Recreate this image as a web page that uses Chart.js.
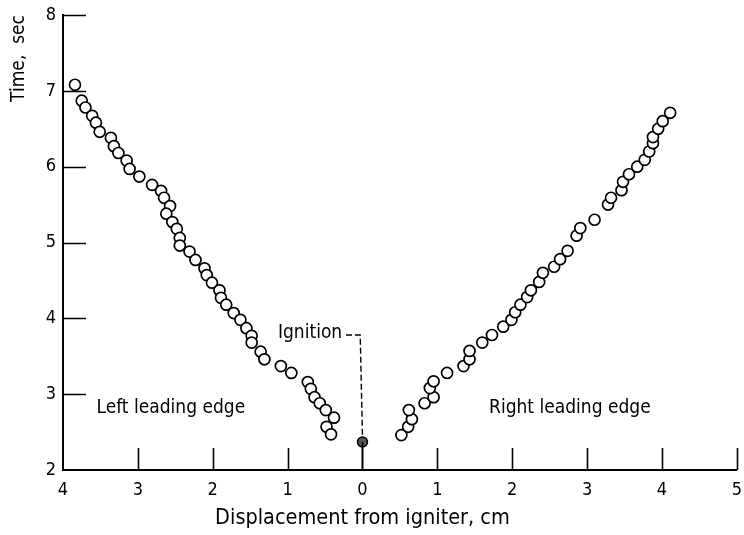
<!DOCTYPE html>
<html>
<head>
<meta charset="utf-8">
<script src="https://cdn.jsdelivr.net/npm/chart.js@4.4.1/dist/chart.umd.min.js"></script>
<style>
  html, body { margin: 0; padding: 0; background: #fff; }
  #wrap { width: 744px; height: 535px; }
</style>
</head>
<body>
<div id="wrap"><canvas id="chart" width="744" height="535"></canvas></div>
<script>
// ─── Data ─────────────────────────────────────────────────────────────────────
// negative x = left of igniter, the axis labels show absolute distance
const leftX = [-3.84, -3.75, -3.70, -3.61, -3.56, -3.51, -3.36, -3.32, -3.26, -3.15,
  -3.11, -2.98, -2.81, -2.69, -2.65, -2.57, -2.62, -2.54, -2.48, -2.44,
  -2.44, -2.31, -2.23, -2.11, -2.08, -2.01, -1.91, -1.89, -1.82, -1.72,
  -1.63, -1.55, -1.48, -1.48, -1.36, -1.31, -1.09, -0.95, -0.73, -0.69,
  -0.64, -0.57, -0.49, -0.38, -0.48, -0.42];
const leftY = [7.08, 6.87, 6.78, 6.67, 6.58, 6.46, 6.38, 6.27, 6.18, 6.08,
  5.97, 5.87, 5.76, 5.68, 5.59, 5.48, 5.38, 5.27, 5.18, 5.06,
  4.96, 4.88, 4.77, 4.66, 4.57, 4.47, 4.37, 4.27, 4.18, 4.07,
  3.98, 3.87, 3.77, 3.68, 3.56, 3.46, 3.37, 3.28, 3.16, 3.07,
  2.96, 2.88, 2.79, 2.69, 2.57, 2.47];

const rightX = [0.52, 0.61, 0.66, 0.62, 0.83, 0.95, 0.90, 0.95, 1.13, 1.35,
  1.43, 1.43, 1.60, 1.73, 1.88, 1.99, 2.04, 2.11, 2.20, 2.25,
  2.36, 2.41, 2.56, 2.64, 2.74, 2.86, 2.91, 3.10, 3.28, 3.32,
  3.46, 3.48, 3.56, 3.67, 3.77, 3.83, 3.88, 3.88, 3.95, 4.01, 4.11];
const rightY = [2.46, 2.57, 2.67, 2.79, 2.88, 2.96, 3.08, 3.17, 3.28, 3.37,
  3.46, 3.57, 3.68, 3.78, 3.89, 3.98, 4.08, 4.18, 4.28, 4.37,
  4.48, 4.60, 4.68, 4.78, 4.89, 5.09, 5.19, 5.30, 5.50, 5.59,
  5.69, 5.80, 5.90, 6.00, 6.09, 6.20, 6.31, 6.39, 6.50, 6.60, 6.71];

const ignitionX = [0];
const ignitionY = [2.37];
const stemX = [0, 0];
const stemY = [2, 2.37];
const leaderX = [-0.22, -0.03, 0];
const leaderY = [3.78, 3.78, 2.45];

const noteText = ['Ignition', 'Left leading edge', 'Right leading edge'];
const noteX = [-0.7, -2.56, 2.77];
const noteY = [3.81, 2.82, 2.82];

const xRange = [-4, 5];
const yRange = [2, 8];
const xTitle = 'Displacement from igniter, cm';
const yTitle = 'Time,  sec';

// ─── Helpers ──────────────────────────────────────────────────────────────────
const FONT = '"DejaVu Sans Condensed", "Liberation Sans Narrow", "Roboto Condensed", sans-serif';
const pts = (xs, ys) => xs.map((v, i) => ({ x: v, y: ys[i] }));
const noPadding = () => ({ left: 0, top: 0, right: 0, bottom: 0 });

const inwardTicks = {
  id: 'inwardTicks',
  afterDatasetsDraw(chart) {
    const { ctx, chartArea, scales: { x, y } } = chart;
    ctx.save();
    ctx.strokeStyle = '#000';
    ctx.lineWidth = 1.6;
    ctx.beginPath();
    x.ticks.forEach(t => {
      if (t.value === x.min) return;
      const px = Math.round(x.getPixelForValue(t.value)) + 0.5;
      ctx.moveTo(px, chartArea.bottom);
      ctx.lineTo(px, chartArea.bottom - 22);
    });
    y.ticks.forEach(t => {
      if (t.value === y.min) return;
      const py = Math.round(y.getPixelForValue(t.value)) + 0.5;
      ctx.moveTo(chartArea.left, py);
      ctx.lineTo(chartArea.left + 23, py);
    });
    ctx.stroke();

    ctx.fillStyle = '#000';
    ctx.font = '19px ' + FONT;
    ctx.textAlign = 'center';
    ctx.textBaseline = 'middle';
    noteText.forEach((s, i) => {
      ctx.fillText(s, x.getPixelForValue(noteX[i]), y.getPixelForValue(noteY[i]));
    });

    // x title sits under the igniter (x = 0), not the middle of the axis
    ctx.font = '21.5px ' + FONT;
    ctx.fillText(xTitle, x.getPixelForValue(0), chartArea.bottom + 48);
    ctx.restore();
  }
};

// ─── Chart ────────────────────────────────────────────────────────────────────
Chart.defaults.font.family = FONT;
Chart.defaults.color = '#000';

new Chart(document.getElementById('chart'), {
  type: 'scatter',
  data: {
    datasets: [
      {
        data: pts(stemX, stemY), showLine: true, pointRadius: 0,
        borderColor: '#000', borderWidth: 1.6
      },
      {
        data: pts(leaderX, leaderY), showLine: true, pointRadius: 0,
        borderColor: '#000', borderWidth: 1.4, borderDash: [6, 3]
      },
      {
        data: pts(leftX, leftY), pointRadius: 5.5, pointBorderWidth: 1.7,
        pointBackgroundColor: '#fff', pointBorderColor: '#000'
      },
      {
        data: pts(rightX, rightY), pointRadius: 5.5, pointBorderWidth: 1.7,
        pointBackgroundColor: '#fff', pointBorderColor: '#000'
      },
      {
        data: pts(ignitionX, ignitionY), pointRadius: 5, pointBorderWidth: 1.5,
        pointBackgroundColor: '#555', pointBorderColor: '#000'
      }
    ]
  },
  options: {
    responsive: false,
    animation: false,
    devicePixelRatio: 1,
    layout: { padding: { top: 15, right: 1, left: 0, bottom: 0 } },
    plugins: { legend: { display: false }, tooltip: { enabled: false } },
    scales: {
      x: {
        type: 'linear', min: xRange[0], max: xRange[1],
        grid: { display: false, drawTicks: false },
        border: { display: true, color: '#000', width: 2 },
        ticks: {
          stepSize: 1, padding: 10, maxRotation: 0,
          font: { size: 18 },
          callback: v => String(Math.abs(v))
        },
        afterFit(scale) {
          scale.height = 65;
        },
        afterUpdate(scale) {
          // keep the "5" label from shrinking the plot area
          scale.paddingLeft = 0;
          scale.paddingRight = 0;
          scale.getPadding = noPadding;
        }
      },
      y: {
        type: 'linear', min: yRange[0], max: yRange[1],
        grid: { display: false, drawTicks: false },
        border: { display: true, color: '#000', width: 2 },
        ticks: { stepSize: 1, padding: 7, font: { size: 18 } },
        title: {
          display: true, text: yTitle, align: 'end',
          font: { size: 19 }, padding: { top: 8, bottom: 0 }
        },
        afterFit(scale) {
          scale.width = 63;
        },
        afterUpdate(scale) {
          scale.paddingTop = 0;
          scale.paddingBottom = 0;
          scale.getPadding = noPadding;
        }
      }
    }
  },
  plugins: [inwardTicks]
});
</script>
</body>
</html>
